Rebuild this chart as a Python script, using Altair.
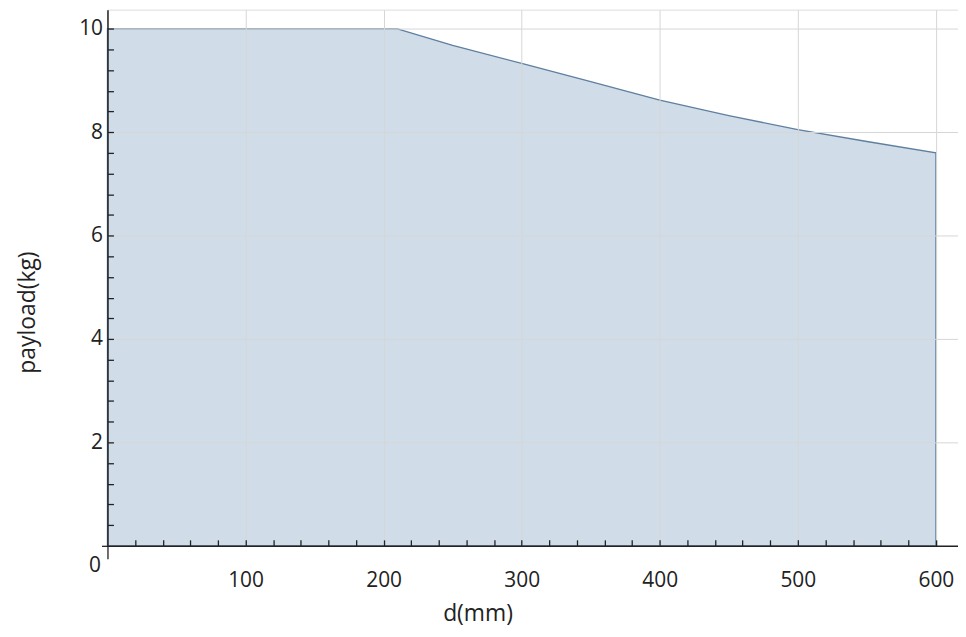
import altair as alt
import pandas as pd

# Data
d_mm = [0, 210, 250, 300, 350, 400, 450, 500, 550, 600]
payload_kg = [10.0, 10.0, 9.68, 9.33, 8.98, 8.62, 8.32, 8.05, 7.82, 7.60]

x_tick_values = list(range(0, 601, 20))
y_tick_values = [round(i * 0.4, 1) for i in range(26)]

df = pd.DataFrame({"d": d_mm, "payload": payload_kg})

FONT = "Open Sans"
INK = "#222222"

x_axis = alt.Axis(
    values=x_tick_values,
    tickCount=100,
    tickMinStep=1,
    title="d(mm)",
    labelExpr="datum.value % 100 === 0 && datum.value > 0 ? format(datum.value, 'd') : ''",
    labelOverlap=False,
    grid=True,
    gridColor="#d6d6d6",
    gridWidth=1,
    gridOpacity={"condition": {"test": "datum.value % 100 === 0 && datum.value > 0", "value": 1}, "value": 0},
    tickSize={"condition": {"test": "datum.value === 0", "value": 13}, "value": -6},
    tickColor=INK,
    tickWidth=1.3,
    domainColor=INK,
    domainWidth=1.5,
    labelFont=FONT,
    labelFontSize=21,
    labelColor=INK,
    labelPadding=30,
    titleFont=FONT,
    titleFontSize=23,
    titleFontWeight="normal",
    titleColor=INK,
    titleBaseline="middle",
    titleAlign="center",
    titleX=372,
    titleY=68,
    zindex=1,
)

y_axis = alt.Axis(
    values=y_tick_values,
    tickCount=100,
    tickMinStep=0.1,
    title="payload(kg)",
    labelExpr="abs(datum.value % 2) < 0.001 ? format(datum.value, 'd') : ''",
    labelOverlap=False,
    grid=True,
    gridColor="#d6d6d6",
    gridWidth=1,
    gridOpacity={"condition": {"test": "abs(datum.value % 2) < 0.001 && datum.value > 0", "value": 1}, "value": 0},
    tickSize={"condition": {"test": "datum.value === 0", "value": 6}, "value": -6},
    labelOffset={"condition": {"test": "datum.value === 0", "value": 20}, "value": 0},
    labelPadding={"condition": {"test": "datum.value === 0", "value": 1}, "value": 11},
    tickColor=INK,
    tickWidth=1.3,
    domainColor=INK,
    domainWidth=1.5,
    labelFont=FONT,
    labelFontSize=21,
    labelColor=INK,
    titleFont=FONT,
    titleFontSize=23,
    titleFontWeight="normal",
    titleColor=INK,
    titleBaseline="middle",
    titleAlign="center",
    titleAngle=270,
    titleX=-80,
    titleY=304,
    zindex=1,
)

chart = (
    alt.Chart(df)
    .mark_area(fill="#d0dde9", stroke="#5f7f9f", strokeWidth=1.3, opacity=1)
    .encode(
        x=alt.X("d:Q", scale=alt.Scale(domain=[0, 616], nice=False, zero=False), axis=x_axis),
        y=alt.Y("payload:Q", scale=alt.Scale(domain=[0, 10.37], nice=False), axis=y_axis),
    )
    .properties(
        width=855,
        height=539,
        autosize=alt.AutoSizeParams(type="none"),
        padding={"left": 100, "top": 0, "right": 0, "bottom": 88},
    )
    .configure_view(stroke=None)
    .configure(background="white")
)

chart.save("out.html", embed_options={"renderer": "svg", "actions": False})
